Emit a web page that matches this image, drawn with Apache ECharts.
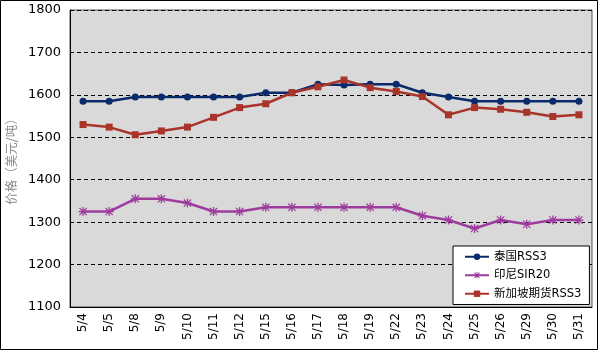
<!DOCTYPE html>
<html>
<head>
<meta charset="utf-8">
<script src="https://cdn.jsdelivr.net/npm/echarts@6/dist/echarts.min.js"></script>
<style>
  html, body { margin: 0; padding: 0; background: #fff; }
  #chart { width: 600px; height: 353px; }
</style>
</head>
<body>
<div id="chart"></div>
<script>
// 日期
var dates = ['5/4', '5/5', '5/8', '5/9', '5/10', '5/11', '5/12', '5/15', '5/16', '5/17',
  '5/18', '5/19', '5/22', '5/23', '5/24', '5/25', '5/26', '5/29', '5/30', '5/31'];
// 泰国RSS3
var thaiRss3 = [1585, 1585, 1595, 1595, 1595, 1595, 1595, 1605, 1605, 1625,
  1623, 1625, 1625, 1605, 1595, 1585, 1585, 1585, 1585, 1585];
// 印尼SIR20
var indoSir20 = [1325, 1325, 1355, 1355, 1345, 1325, 1325, 1335, 1335, 1335,
  1335, 1335, 1335, 1315, 1305, 1285, 1305, 1295, 1305, 1305];
// 新加坡期货RSS3
var sgxRss3 = [1530, 1524, 1506, 1515, 1524, 1547, 1570, 1579, 1605, 1619,
  1635, 1617, 1608, 1596, 1553, 1570, 1566, 1559, 1549, 1553];
var seriesNames = ['泰国RSS3', '印尼SIR20', '新加坡期货RSS3'];
var colors = ['#0b2a6b', '#9e3c9e', '#a8342a'];

var font = 'DejaVu Sans, "Noto Sans CJK SC", sans-serif';
// 米字形标记（填充路径）
var asterisk = 'path://M4.3,0L5.7,0L5.7,10L4.3,10Z' +
  'M0,4.3L10,4.3L10,5.7L0,5.7Z' +
  'M0.5,1.5L1.5,0.5L9.5,8.5L8.5,9.5Z' +
  'M8.5,0.5L9.5,1.5L1.5,9.5L0.5,8.5Z';

var chart = echarts.init(document.getElementById('chart'));
chart.setOption({
  animation: false,
  textStyle: { fontFamily: font },
  graphic: [{
    type: 'rect',
    shape: { x: 0.5, y: 0.5, width: 597, height: 349 },
    style: { fill: 'none', stroke: '#000', lineWidth: 1 },
    silent: true
  }],
  grid: {
    left: 70, right: 8, top: 10, bottom: 46,
    outerBoundsMode: 'none',
    containLabel: false,
    show: true,
    backgroundColor: '#d9d9d9',
    borderColor: '#555',
    borderWidth: 1
  },
  legend: {
    orient: 'vertical',
    left: 453, top: 246,
    data: seriesNames,
    backgroundColor: '#fff',
    borderColor: '#000',
    borderWidth: 1,
    borderRadius: 0,
    padding: [5, 8, 5, 11],
    itemGap: 7,
    itemWidth: 24,
    itemHeight: 8,
    textStyle: { fontSize: 11.5, color: '#000', fontFamily: font }
  },
  xAxis: {
    type: 'category',
    data: dates,
    boundaryGap: true,
    axisLine: { lineStyle: { color: '#000', width: 1 } },
    axisTick: { inside: true, length: 5, lineStyle: { color: '#000' } },
    axisLabel: { rotate: 90, fontSize: 12, color: '#000', margin: 6, fontFamily: font }
  },
  yAxis: {
    type: 'value',
    min: 1100, max: 1800, interval: 100,
    name: '价格（美元/吨）',
    nameLocation: 'middle',
    nameGap: 52,
    nameTextStyle: { color: '#8c8c8c', fontSize: 12.5, fontFamily: '"Noto Sans CJK SC", sans-serif' },
    axisLine: { show: true, lineStyle: { color: '#000', width: 1 } },
    axisTick: { show: false },
    axisLabel: {
      fontSize: 13, color: '#000', margin: 9, fontFamily: font,
      formatter: function (v) { return String(v); }
    },
    splitLine: { lineStyle: { color: '#000', type: [4, 3], width: 1 } }
  },
  series: [{
    name: seriesNames[0],
    type: 'line',
    data: thaiRss3,
    color: colors[0],
    symbol: 'circle',
    symbolSize: 7,
    lineStyle: { width: 2.5 }
  }, {
    name: seriesNames[1],
    type: 'line',
    data: indoSir20,
    color: colors[1],
    symbol: asterisk,
    symbolSize: 9,
    lineStyle: { width: 2.5 }
  }, {
    name: seriesNames[2],
    type: 'line',
    data: sgxRss3,
    color: colors[2],
    symbol: 'rect',
    symbolSize: 7,
    lineStyle: { width: 2.5 }
  }]
});
</script>
</body>
</html>
